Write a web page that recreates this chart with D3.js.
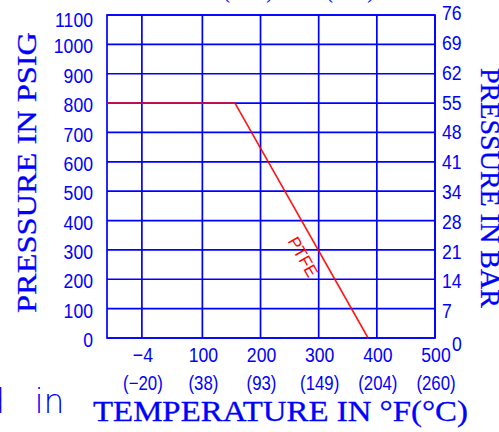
<!DOCTYPE html>
<html>
<head>
<meta charset="utf-8">
<script src="https://cdn.jsdelivr.net/npm/d3@7"></script>
<style>
  body { margin: 0; background: #fff; }
  svg { display: block; }
  .tick-label { font-family: "Liberation Sans", Arial, sans-serif; font-size: 21px; fill: #0000ff; }
  .title { font-family: "Liberation Serif", "Times New Roman", serif; font-size: 26px; fill: #0000ff; stroke: #0000ff; stroke-width: 0.3; }
</style>
</head>
<body>
<div id="chart"></div>
<script>
/* DATA */
const psiTicks = [0, 100, 200, 300, 400, 500, 600, 700, 800, 900, 1000, 1100];
const barLabels = ["0", "7", "14", "21", "28", "34", "41", "48", "55", "62", "69", "76"];
const fTicks = [-4, 100, 200, 300, 400, 500];
const fLabels = ["\u22124", "100", "200", "300", "400", "500"];
const cLabels = ["(\u221220)", "(38)", "(93)", "(149)", "(204)", "(260)"];
const ptfeTemp = [-64, 156, 385];
const ptfePsi = [800, 800, 0];

/* CONSTANTS */
const W = 499, H = 432,
  margin = { top: 15, right: 64, bottom: 94, left: 107 },
  width = W - margin.left - margin.right,
  height = H - margin.top - margin.bottom,
  blue = "#0000ff",
  narrow = 0.84; // squeeze the tick font horizontally

const svg = d3.select("#chart").append("svg")
  .attr("width", W).attr("height", H);

// SCALES
const x = d3.scaleLinear().domain([-64, 500]).range([margin.left, margin.left + width]);
const y = d3.scaleLinear().domain([0, 1100]).range([margin.top + height, margin.top]);

const at = (px, py) => `translate(${px},${py}) scale(${narrow},1)`;

// grid
const grid = svg.append("g").attr("stroke", blue).attr("stroke-width", 1.7);
grid.selectAll("line.h").data(psiTicks).join("line")
  .attr("class", "h")
  .attr("x1", x.range()[0]).attr("x2", x.range()[1])
  .attr("y1", d => y(d)).attr("y2", d => y(d));
grid.selectAll("line.v").data(fTicks).join("line")
  .attr("class", "v")
  .attr("x1", d => x(d)).attr("x2", d => x(d))
  .attr("y1", y.range()[0]).attr("y2", y.range()[1]);
grid.append("rect")
  .attr("x", x.range()[0]).attr("y", y.range()[1])
  .attr("width", width).attr("height", height)
  .attr("fill", "none");

// left axis labels (psig)
svg.selectAll("text.psi").data(psiTicks).join("text")
  .attr("class", "tick-label psi")
  .attr("transform", d => at(margin.left - 14, y(d) + (d === 1100 ? 4 : 1.5)))
  .attr("text-anchor", "end")
  .attr("dominant-baseline", "central")
  .text(d => d);

// right axis labels (bar)
svg.selectAll("text.bar").data(psiTicks).join("text")
  .attr("class", "tick-label bar")
  .attr("transform", (d, i) => at(margin.left + width + (i === 0 ? 17 : 7),
    y(d) + (i === 0 ? 5 : (i / 11) * -5 + 2.5)))
  .attr("dominant-baseline", "central")
  .text((d, i) => barLabels[i]);

// bottom labels
svg.selectAll("text.f").data(fTicks).join("text")
  .attr("class", "tick-label f")
  .attr("transform", d => at(x(d) + 1, margin.top + height + 24))
  .attr("text-anchor", "middle")
  .text((d, i) => fLabels[i]);
svg.selectAll("text.c").data(fTicks).join("text")
  .attr("class", "tick-label c")
  .attr("transform", d => at(x(d) + 1, margin.top + height + 52))
  .attr("text-anchor", "middle")
  .style("font-size", "20px")
  .text((d, i) => cLabels[i]);

// PTFE line
const pts = ptfeTemp.map((t, i) => [x(t), y(ptfePsi[i])]);
svg.append("path")
  .attr("d", d3.line()(pts))
  .attr("fill", "none")
  .attr("stroke", "#ff0000")
  .attr("stroke-opacity", 0.9)
  .attr("stroke-width", 1.6);

// PTFE label along the sloped segment
const [p1, p2] = [pts[1], pts[2]];
const ang = Math.atan2(p2[1] - p1[1], p2[0] - p1[0]);
const f = 0.62, off = 17;
const lx = p1[0] + f * (p2[0] - p1[0]) - Math.sin(ang) * off;
const ly = p1[1] + f * (p2[1] - p1[1]) + Math.cos(ang) * off;
svg.append("text")
  .attr("transform", `translate(${lx},${ly}) rotate(${ang * 180 / Math.PI})`)
  .attr("text-anchor", "middle")
  .attr("dominant-baseline", "central")
  .attr("font-family", "Liberation Sans, Arial, sans-serif")
  .attr("font-size", 17)
  .attr("fill", "#ff0000")
  .text("PTFE");

// titles
svg.append("text")
  .attr("class", "title")
  .attr("transform", "translate(36,313) rotate(-90)")
  .attr("textLength", 281).attr("lengthAdjust", "spacingAndGlyphs")
  .style("font-size", "27px")
  .text("PRESSURE IN PSIG");

svg.append("text")
  .attr("class", "title")
  .attr("transform", "translate(481,68) rotate(90)")
  .attr("textLength", 240).attr("lengthAdjust", "spacingAndGlyphs")
  .style("font-size", "27px")
  .text("PRESSURE IN BAR");

svg.append("text")
  .attr("class", "title")
  .attr("x", 93).attr("y", 421)
  .style("font-size", "29px")
  .attr("textLength", 375).attr("lengthAdjust", "spacingAndGlyphs")
  .text("TEMPERATURE IN \u00b0F(\u00b0C)");

// cut-off texts at the edges (only descenders show)
const topText = svg.append("text")
  .attr("class", "title")
  .attr("y", -1)
  .style("font-size", "17px");
topText.append("tspan").attr("x", 184).text("/");
topText.append("tspan").attr("x", 224).text("(PSIG)");
topText.append("tspan").attr("x", 327).text("(BAR)");

svg.append("text")
  .attr("x", -16).attr("y", 413)
  .attr("font-family", "DejaVu Sans, sans-serif")
  .attr("font-weight", 300)
  .attr("font-size", 33)
  .attr("word-spacing", 19)
  .attr("fill", "#0000ff")
  .text("d in");
</script>
</body>
</html>
